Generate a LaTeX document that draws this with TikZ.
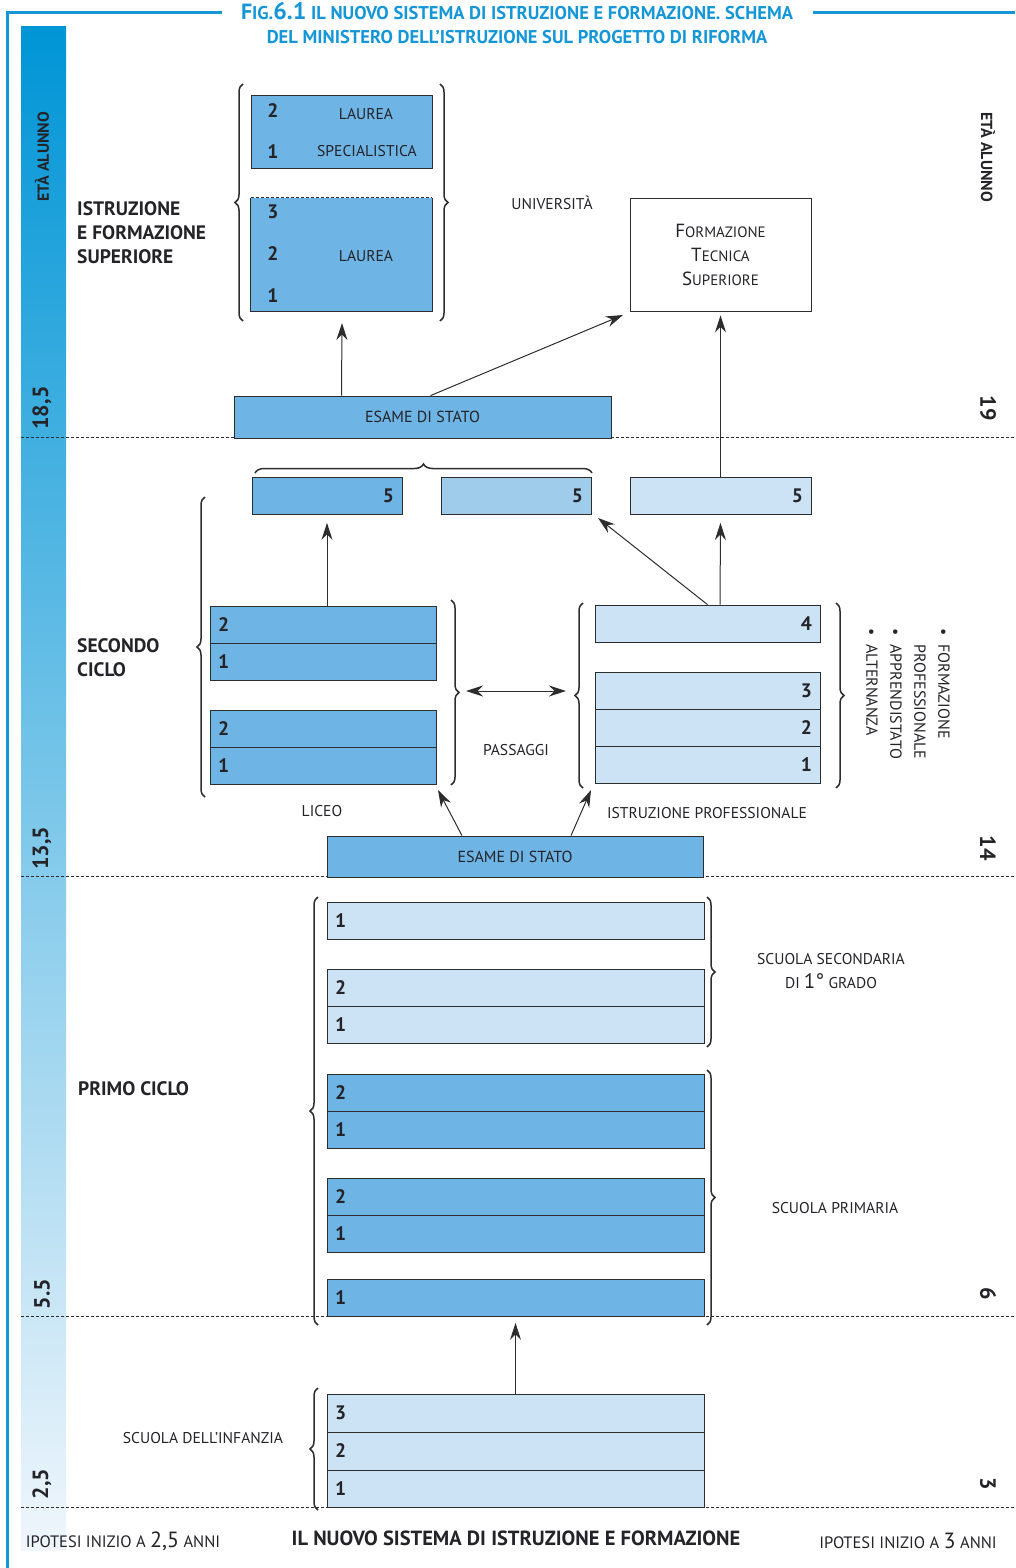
\documentclass[tikz,border=0pt]{standalone}
\usepackage{fontspec}
\setmainfont{PT Sans}
\usetikzlibrary{arrows.meta,decorations.pathreplacing,positioning}

\definecolor{titleblue}{RGB}{20,150,215}
\definecolor{bartop}{RGB}{0,149,214}
\definecolor{barbot}{RGB}{240,246,252}
\definecolor{dkblue}{RGB}{110,180,228}
\definecolor{mdblue}{RGB}{160,204,236}
\definecolor{ltblue}{RGB}{204,226,245}
\definecolor{framec}{RGB}{45,45,45}
\definecolor{txtc}{RGB}{35,35,40}

\newcommand{\fs}[1]{\fontsize{#1}{#1}\selectfont}
\newcommand{\bul}{\textbullet\hspace{9pt}}

\begin{document}
\begin{tikzpicture}[
    x=1pt, y=-1pt,
    lbl/.style={text=txtc, font=\fs{15.6}, inner sep=0pt, align=center},
    head/.style={text=txtc, font=\fontsize{19.5}{24}\selectfont\bfseries, inner sep=0pt, align=left},
    age/.style={text=txtc, font=\fs{22}\bfseries, inner sep=0pt},
    box/.style={
        draw=framec,
        line width=0.8pt,
        minimum height=37pt,
        inner xsep=8pt,
        inner ysep=0pt,
        text=txtc,
        font=\fs{19.5}\bfseries
    },
    licbox/.style={box, fill=dkblue, minimum width=226pt, text width=210pt, align=left},
    ipbox/.style={box, fill=ltblue, minimum width=225pt, text width=209pt, align=right},
    rowbox/.style={box, minimum width=377pt, text width=361pt, align=left},
    fivebox/.style={box, minimum width=150pt, text width=134pt, align=right},
    brace/.style={decorate, decoration={brace, amplitude=8pt}, line width=1.5pt, draw=framec},
    arrow/.style={->, line width=1pt, draw=framec, >={Stealth[length=17pt,width=11pt]}},
    ageline/.style={draw=framec, line width=0.7pt, dash pattern=on 3pt off 2pt}
]
    \useasboundingbox (0,0) rectangle (1015,1568);

    % frame and age bar
    \draw[titleblue, line width=3pt] (7,1568) -- (7,13) -- (222,13);
    \draw[titleblue, line width=3pt] (813,13) -- (1015,13);
    \shade[top color=bartop, bottom color=barbot] (21,27) rectangle (66,1550);
    \draw[ageline] (21,437) -- (1015,437);
    \draw[ageline] (21,876) -- (1015,876);
    \draw[ageline] (21,1316) -- (1015,1316);
    \draw[ageline] (21,1507) -- (1015,1507);

    \node[text=titleblue, font=\fs{18.5}\bfseries] (title1) at (517,11)
        {{\fs{22}F}IG.{\fs{24}6.1} IL NUOVO SISTEMA DI ISTRUZIONE E FORMAZIONE. SCHEMA};
    \node[text=titleblue, font=\fs{18.5}\bfseries] (title2) at (517,37)
        {DEL MINISTERO DELL’ISTRUZIONE SUL PROGETTO DI RIFORMA};

    % ages
    \node[age, font=\fs{16}\bfseries, rotate=90] (etaL) at (42,157) {ETÀ ALUNNO};
    \node[age, rotate=90] (a185) at (42,408) {18,5};
    \node[age, rotate=90] (a135) at (42,848) {13,5};
    \node[age, rotate=90] (a55) at (42,1294) {5.5};
    \node[age, rotate=90] (a25) at (42,1484) {2,5};
    \node[age, font=\fs{16}\bfseries, rotate=-90] (etaR) at (988,157) {ETÀ ALUNNO};
    \node[age, rotate=-90] (a19) at (988,408) {19};
    \node[age, rotate=-90] (a14) at (988,848) {14};
    \node[age, rotate=-90] (a6) at (988,1294) {6};
    \node[age, rotate=-90] (a3) at (988,1484) {3};

    % istruzione superiore
    \node[head, anchor=west] (sup) at (77,233) {ISTRUZIONE\\E FORMAZIONE\\SUPERIORE};
    \node[box, fill=dkblue, minimum width=181pt, minimum height=73pt] (lspec) at (341.5,131.5) {};
    \node[lbl, font=\fs{19.5}\bfseries] (ls2) at (273,111) {2};
    \node[lbl, font=\fs{19.5}\bfseries] (ls1) at (273,152) {1};
    \node[lbl] (lsA) at (366,114) {LAUREA};
    \node[lbl] (lsB) at (367,151) {SPECIALISTICA};
    \node[fill=dkblue, minimum width=181pt, minimum height=113pt, inner sep=0pt] (laurea) at (341.5,254.5) {};
    \draw[framec, line width=0.8pt] (laurea.north west) -- (laurea.south west)
        -- (laurea.south east) -- (laurea.north east);
    \draw[framec, line width=0.8pt, dash pattern=on 3pt off 2pt] (laurea.north west) -- (laurea.north east);
    \node[lbl, font=\fs{19.5}\bfseries] (l3) at (273,212) {3};
    \node[lbl, font=\fs{19.5}\bfseries] (l2) at (273,254) {2};
    \node[lbl, font=\fs{19.5}\bfseries] (l1) at (273,296) {1};
    \node[lbl] (lA) at (366,256) {LAUREA};
    \draw[brace] (243,321) -- (243,84);
    \draw[brace] (440,84) -- (440,321);
    \node[lbl] (uni) at (552,203) {UNIVERSITÀ};
    \node[draw=framec, line width=0.8pt, fill=white, minimum width=181pt, minimum height=113pt,
        align=center, text=txtc, font=\fontsize{19}{24}\selectfont] (fts) at (720.5,254.5)
        {F{\fs{15}ORMAZIONE}\\T{\fs{15}ECNICA}\\S{\fs{15}UPERIORE}};
    \node[box, fill=dkblue, minimum width=377pt, minimum height=42pt, font=\fs{16}\mdseries] (esame1) at (422.5,417) {ESAME DI STATO};
    \coordinate (tipLau) at (342,323);
    \coordinate (tipFts) at (623,315);
    \draw[arrow] (esame1.north -| laurea.south) -- (tipLau);
    \draw[arrow] ([xshift=8pt]esame1.north) -- (tipFts);

    % secondo ciclo
    \node[head, anchor=west] (sec) at (77,658) {SECONDO\\CICLO};
    \node[fivebox, fill=dkblue] (cinque1) at (327,496) {5};
    \node[fivebox, fill=mdblue] (cinque2) at (516,496) {5};
    \node[box, fill=ltblue, minimum width=181pt, text width=165pt, align=right] (cinque3) at (720.5,496) {5};
    \draw[brace, decoration={amplitude=9pt}] (255,473) -- (592,473);
    \draw[brace] (205,797) -- (205,497);
    \node[licbox] (lic2a) at (323,624.5) {2};
    \node[licbox] (lic1a) at (323,661.5) {1};
    \node[licbox] (lic2b) at (323,728.5) {2};
    \node[licbox] (lic1b) at (323,765.5) {1};
    \draw[brace] (451,600) -- (451,785);
    \node[ipbox] (ip4) at (707.5,623.5) {4};
    \node[ipbox] (ip3) at (707.5,690.5) {3};
    \node[ipbox] (ip2) at (707.5,727.5) {2};
    \node[ipbox] (ip1) at (707.5,765) {1};
    \draw[brace] (583,788) -- (583,603);
    \draw[brace] (836,603) -- (836,788);
    \node[lbl] (liceo) at (322,811) {LICEO};
    \node[lbl] (pass) at (516,750) {PASSAGGI};
    \node[lbl] (ipro) at (707,813) {ISTRUZIONE PROFESSIONALE};
    \node[lbl, rotate=-90, anchor=north west, align=left, font=\fontsize{16}{24}\selectfont] (tipi) at (950,628)
        {\bul FORMAZIONE\\\phantom{\bul}PROFESSIONALE\\\bul APPRENDISTATO\\\bul ALTERNANZA};
    \node[box, fill=dkblue, minimum width=376pt, minimum height=41pt, font=\fs{16}\mdseries] (esame2) at (515,856.5) {ESAME DI STATO};
    \coordinate (pasL) at (466,691);
    \coordinate (pasR) at (566,691);
    \coordinate (tipB) at (598,518);
    \coordinate (tipLic) at (438,790);
    \coordinate (tipIp) at (591,790);
    \draw[arrow] (cinque3.north) -- ([yshift=-4pt]fts.south);
    \draw[arrow] (lic2a.north -| cinque1) -- ([yshift=-8pt]cinque1.south);
    \draw[arrow] ([xshift=12.5pt]ip4.north) -- ([yshift=-8pt]cinque3.south);
    \draw[arrow] (ip4.north) -- (tipB);
    \draw[arrow, <->] (pasL) -- (pasR);
    \draw[arrow] ([xshift=-53pt]esame2.north) -- (tipLic);
    \draw[arrow] ([xshift=56pt]esame2.north) -- (tipIp);

    % primo ciclo
    \node[head, anchor=west] (primo) at (78,1089) {PRIMO CICLO};
    \node[rowbox, fill=ltblue] (sm1) at (515.5,921) {1};
    \node[rowbox, fill=ltblue] (sm2) at (515.5,987.5) {2};
    \node[rowbox, fill=ltblue] (sm1b) at (515.5,1024.5) {1};
    \node[rowbox, fill=dkblue] (pr2a) at (515.5,1092.5) {2};
    \node[rowbox, fill=dkblue] (pr1a) at (515.5,1129.5) {1};
    \node[rowbox, fill=dkblue] (pr2b) at (515.5,1196.5) {2};
    \node[rowbox, fill=dkblue] (pr1b) at (515.5,1233.5) {1};
    \node[rowbox, fill=dkblue] (pr1c) at (515.5,1298) {1};
    \draw[brace] (318,1325) -- (318,897);
    \draw[brace] (707,897) -- (707,1047);
    \draw[brace] (707,1070) -- (707,1325);
    \node[lbl, font=\fontsize{15.6}{24}\selectfont] (secgr) at (831,971) {SCUOLA SECONDARIA\\DI {\fs{21}1°} GRADO};
    \node[lbl] (prim) at (835,1208) {SCUOLA PRIMARIA};

    % infanzia
    \node[rowbox, fill=ltblue, minimum height=38pt] (inf3) at (515.5,1413) {3};
    \node[rowbox, fill=ltblue, minimum height=38pt] (inf2) at (515.5,1451) {2};
    \node[rowbox, fill=ltblue, minimum height=37pt] (inf1) at (515.5,1488.5) {1};
    \draw[brace] (318,1510) -- (318,1388);
    \node[lbl] (infz) at (203,1438) {SCUOLA DELL’INFANZIA};
    \draw[arrow] (inf3.north) -- ([yshift=-6pt]pr1c.south);

    % bottom
    \node[lbl, font=\fs{16.5}] (ipo1) at (123,1541) {IPOTESI INIZIO A {\fs{22}2,5} ANNI};
    \node[head, font=\fs{20.5}\bfseries] (foot) at (516,1538) {IL NUOVO SISTEMA DI ISTRUZIONE E FORMAZIONE};
    \node[lbl, font=\fs{16.5}] (ipo2) at (908,1541) {IPOTESI INIZIO A {\fs{22}3} ANNI};
\end{tikzpicture}
\end{document}
